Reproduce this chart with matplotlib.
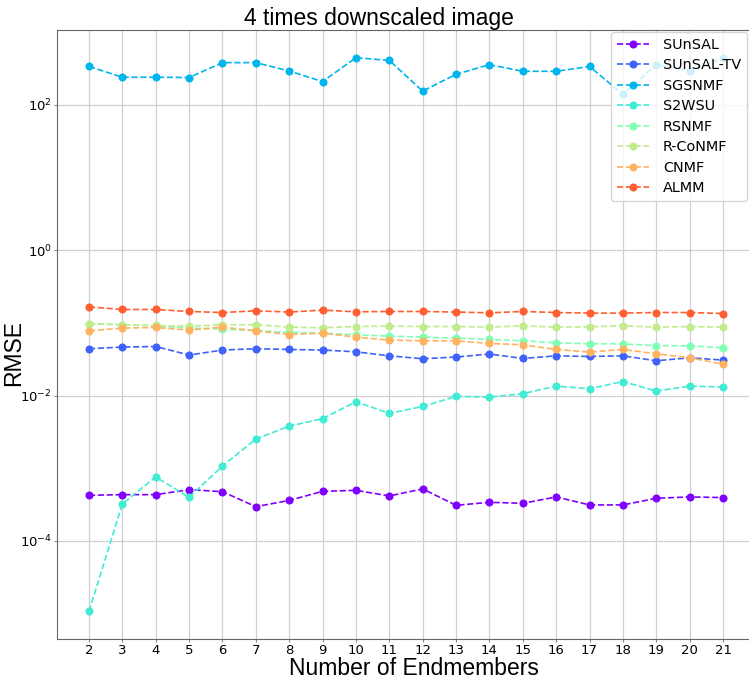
import matplotlib
matplotlib.use("Agg")
import matplotlib.pyplot as plt
import numpy as np

endmembers = list(range(2, 22))
ytick_values = [1e-4, 1e-2, 1e0, 1e2]

sunsal = [4.23e-4, 4.32e-4, 4.32e-4, 5.06e-4, 4.75e-4, 2.95e-4, 3.60e-4, 4.80e-4, 4.95e-4, 4.15e-4,
          5.18e-4, 3.08e-4, 3.39e-4, 3.28e-4, 4.02e-4, 3.12e-4, 3.12e-4, 3.85e-4, 4.02e-4, 3.94e-4]
sunsal_tv = [0.0441, 0.0465, 0.0473, 0.0361, 0.0423, 0.0441, 0.0431, 0.0423, 0.0400, 0.0352,
             0.0321, 0.0339, 0.0373, 0.0324, 0.0352, 0.0345, 0.0352, 0.0301, 0.0331, 0.0308]
sgsnmf = [339, 241, 241, 239, 383, 383, 294, 210, 448, 411,
          155, 265, 359, 291, 291, 339, 140, 360, 295, 445]
s2wsu = [1.07e-5, 3.22e-4, 7.57e-4, 3.97e-4, 1.07e-3, 2.52e-3, 3.80e-3, 4.80e-3, 8.22e-3, 5.68e-3,
         7.08e-3, 9.73e-3, 9.53e-3, 1.06e-2, 1.35e-2, 1.24e-2, 1.56e-2, 1.15e-2, 1.35e-2, 1.31e-2]
rsnmf = [0.0981, 0.0942, 0.0912, 0.0848, 0.0822, 0.0786, 0.0738, 0.0723, 0.0685, 0.0658,
         0.0637, 0.0618, 0.0591, 0.0567, 0.0532, 0.0516, 0.0516, 0.0484, 0.0484, 0.0455]
rconmf = [0.0972, 0.0942, 0.0921, 0.0903, 0.0942, 0.0942, 0.0875, 0.0857, 0.0891, 0.0903,
          0.0891, 0.0891, 0.0875, 0.0912, 0.0875, 0.0884, 0.0912, 0.0875, 0.0891, 0.0875]
cnmf = [0.0778, 0.0848, 0.0865, 0.0796, 0.0875, 0.0778, 0.0692, 0.0723, 0.0637, 0.0580,
        0.0567, 0.0567, 0.0521, 0.0500, 0.0431, 0.0397, 0.0431, 0.0376, 0.0331, 0.0271]
almm = [0.166, 0.153, 0.153, 0.1436, 0.139, 0.1466, 0.141, 0.150, 0.1422, 0.1436,
        0.1436, 0.141, 0.1377, 0.1436, 0.139, 0.1364, 0.1364, 0.139, 0.139, 0.1346]

labels = ["SUnSAL", "SUnSAL-TV", "SGSNMF", "S2WSU", "RSNMF", "R-CoNMF", "CNMF", "ALMM"]
series = [sunsal, sunsal_tv, sgsnmf, s2wsu, rsnmf, rconmf, cnmf, almm]
colors = plt.cm.rainbow(np.arange(8) / 8)

fig = plt.figure(figsize=(7.49, 6.81), dpi=100)
ax = fig.add_axes([57.3 / 749, 42 / 681, (754.7 - 57.3) / 749, (639 - 30) / 681])

for lab, vals, c in zip(labels, series, colors):
    ax.plot(endmembers, vals, linestyle="--", marker="o", color=c, label=lab,
            linewidth=1.2, markersize=4.8)

ax.set_yscale("log")
ax.set_yticks(ytick_values)
ax.set_xticks(endmembers)
ax.grid(True, which="major", color="#d0d0d0", linewidth=0.9)
ax.minorticks_off()
ax.tick_params(axis="both", labelsize=9.5, length=2.5, width=0.8, color="#888888", pad=1.5)
ax.tick_params(axis="x", pad=1.0)
for s in ax.spines.values():
    s.set_color("#666666")

tfont = dict(family=["Liberation Sans", "DejaVu Sans"], size=16.5)
ax.set_title("4 times downscaled image", fontdict=tfont, pad=3)
ax.title.set_x((378.5 - 57.3) / 697.4)
ax.set_xlabel("Number of Endmembers", fontdict=tfont)
ax.xaxis.set_label_coords((414 - 57.3) / 697.4, (639 - 657) / 609)
ax.set_ylabel("RMSE", fontdict=tfont)
ax.yaxis.set_label_coords((25 - 57.3) / 697.4, (639 - 353) / 609)

ax.legend(loc="upper right", bbox_to_anchor=((747 - 57.3) / 697.4, 1 - 2 / 609),
          fontsize=10.4, handlelength=2.2, handletextpad=1.0,
          borderaxespad=0.0, labelspacing=0.45)

fig.savefig("out.png", dpi=100)
